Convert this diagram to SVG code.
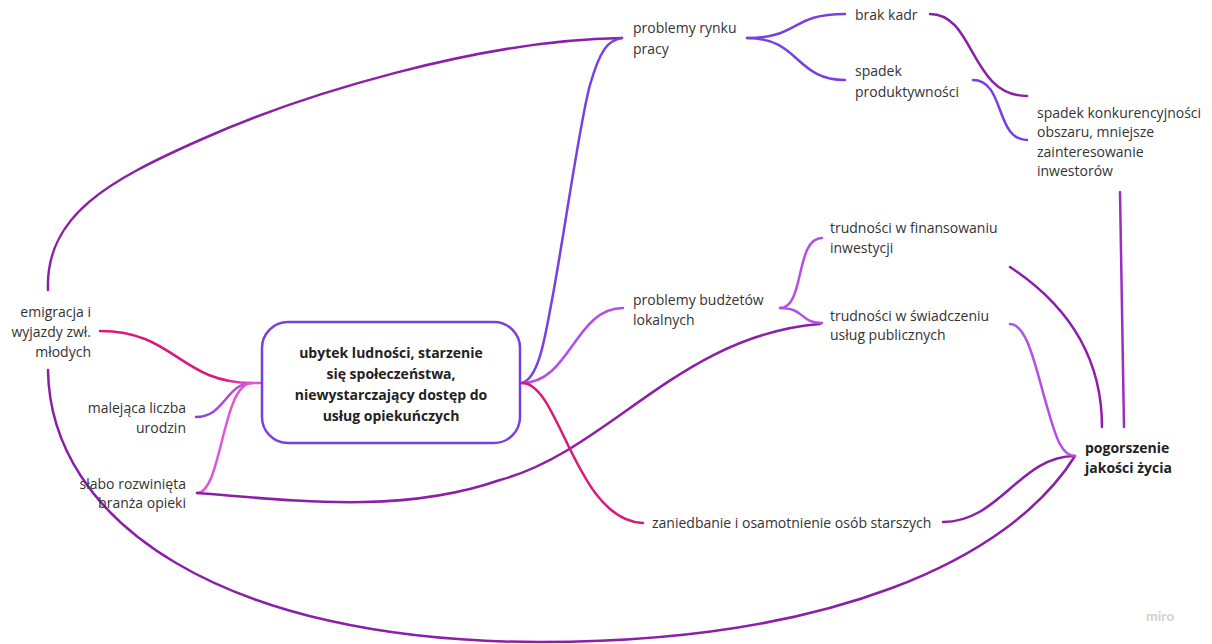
<svg xmlns="http://www.w3.org/2000/svg" width="1212" height="644" viewBox="0 0 1212 644">
<style>
.t{font-family:"Open Sans","Liberation Sans",sans-serif;font-size:14px;fill:#333}
.b{font-weight:bold;fill:#222}
.e{text-anchor:end}
.m{text-anchor:middle}
.c{fill:none;stroke-width:2.5;stroke-linecap:round}
.crim{stroke:#d81b7a}
.vio{stroke:#7a3fe4}
.pur{stroke:#8b1fa8}
.lil{stroke:#b24fe6}
.pnk{stroke:#e055d0}
</style>
<defs>
<linearGradient id="gEmi" gradientUnits="userSpaceOnUse" x1="100" y1="0" x2="252" y2="0"><stop offset="0" stop-color="#d81b7a"/><stop offset="0.8" stop-color="#d81b7a"/><stop offset="1" stop-color="#e055d0"/></linearGradient>
<linearGradient id="gMal" gradientUnits="userSpaceOnUse" x1="196" y1="0" x2="252" y2="0"><stop offset="0" stop-color="#8a3fe0"/><stop offset="1" stop-color="#d050d8"/></linearGradient>
</defs>
<rect width="1212" height="644" fill="#fff"/>
<g id="connectors">
<path class="c" stroke="url(#gEmi)" d="M100,331 C175,331 180,383 252,383 L262,383"/>
<path class="c" stroke="url(#gMal)" d="M196,417 C225,417 226,383 252,383"/>
<path class="c pnk" d="M197,493 C222,493 222,383 252,383"/>
<path class="c pur" d="M197,493 C290,500 400,515 500,480 C610,450 680,335 820,324"/>
<path class="c pur" d="M48,370 C50,520 220,642 540,642 C830,642 1010,560 1075,456"/>
<path class="c pur" d="M48,290 C45,215 110,180 200,140 C300,95 480,40 622,38"/>
<path class="c vio" d="M522,383 C540,378 546,330 552,300 C565,230 580,120 590,85 C600,50 608,40 622,38"/>
<path class="c vio" d="M747,38 C800,38 790,14 845,14"/>
<path class="c vio" d="M747,38 C800,38 795,80 845,80"/>
<path class="c pur" d="M930,14 C975,14 970,96 1027,96"/>
<path class="c vio" d="M973,80 C1005,80 995,140 1027,140"/>
<path class="c lil" d="M522,383 C570,383 575,308 623,308"/>
<path class="c lil" d="M780,308 C805,308 795,238 822,238"/>
<path class="c lil" d="M780,308 C805,308 800,323 822,323"/>
<path class="c crim" d="M522,383 C560,383 575,520 643,523"/>
<path class="c pur" d="M943,522 C1000,522 1020,456 1075,456"/>
<path class="c lil" d="M1010,324 C1028,324 1036,370 1048,410 C1056,438 1062,456 1075,456"/>
<path class="c pur" d="M1010,267 C1060,300 1102,350 1102,427"/>
<path class="c" stroke="#9a2ec0" d="M1120,192 L1124,427"/>
</g>
<g id="center">
<rect x="262" y="322" width="258" height="121" rx="26" fill="#fff" stroke="#7a3fe4" stroke-width="2.5"/>
<text class="t b m" x="391" y="358">ubytek ludności, starzenie</text>
<text class="t b m" x="391" y="379">się społeczeństwa,</text>
<text class="t b m" x="391" y="400">niewystarczający dostęp do</text>
<text class="t b m" x="391" y="421">usług opiekuńczych</text>
</g>
<g id="emigracja">
<text class="t e" x="91" y="317">emigracja i</text>
<text class="t e" x="91" y="337">wyjazdy zwł.</text>
<text class="t e" x="91" y="357">młodych</text>
</g>
<g id="malejaca">
<text class="t e" x="186" y="413">malejąca liczba</text>
<text class="t e" x="186" y="433">urodzin</text>
</g>
<g id="slabo">
<text class="t e" x="186" y="489">słabo rozwinięta</text>
<text class="t e" x="186" y="508">branża opieki</text>
</g>
<g id="rynek">
<text class="t" x="633" y="33">problemy rynku</text>
<text class="t" x="633" y="54">pracy</text>
</g>
<g id="brak">
<text class="t" x="855" y="20">brak kadr</text>
</g>
<g id="produktywnosc">
<text class="t" x="855" y="76">spadek</text>
<text class="t" x="855" y="97">produktywności</text>
</g>
<g id="konkurencyjnosc">
<text class="t" x="1037" y="118">spadek konkurencyjności</text>
<text class="t" x="1037" y="137">obszaru, mniejsze</text>
<text class="t" x="1037" y="157">zainteresowanie</text>
<text class="t" x="1037" y="176">inwestorów</text>
</g>
<g id="budzety">
<text class="t" x="633" y="305">problemy budżetów</text>
<text class="t" x="633" y="325">lokalnych</text>
</g>
<g id="finansowanie">
<text class="t" x="830" y="233">trudności w finansowaniu</text>
<text class="t" x="830" y="253">inwestycji</text>
</g>
<g id="swiadczenie">
<text class="t" x="830" y="321">trudności w świadczeniu</text>
<text class="t" x="830" y="340">usług publicznych</text>
</g>
<g id="zaniedbanie">
<text class="t" x="652" y="528">zaniedbanie i osamotnienie osób starszych</text>
</g>
<g id="pogorszenie">
<text class="t b" x="1085" y="453">pogorszenie</text>
<text class="t b" x="1085" y="473">jakości życia</text>
</g>
<text x="1146" y="621" font-family="Lato,'Liberation Sans',sans-serif" font-size="14" font-weight="bold" fill="#d0d0d0">miro</text>
</svg>
